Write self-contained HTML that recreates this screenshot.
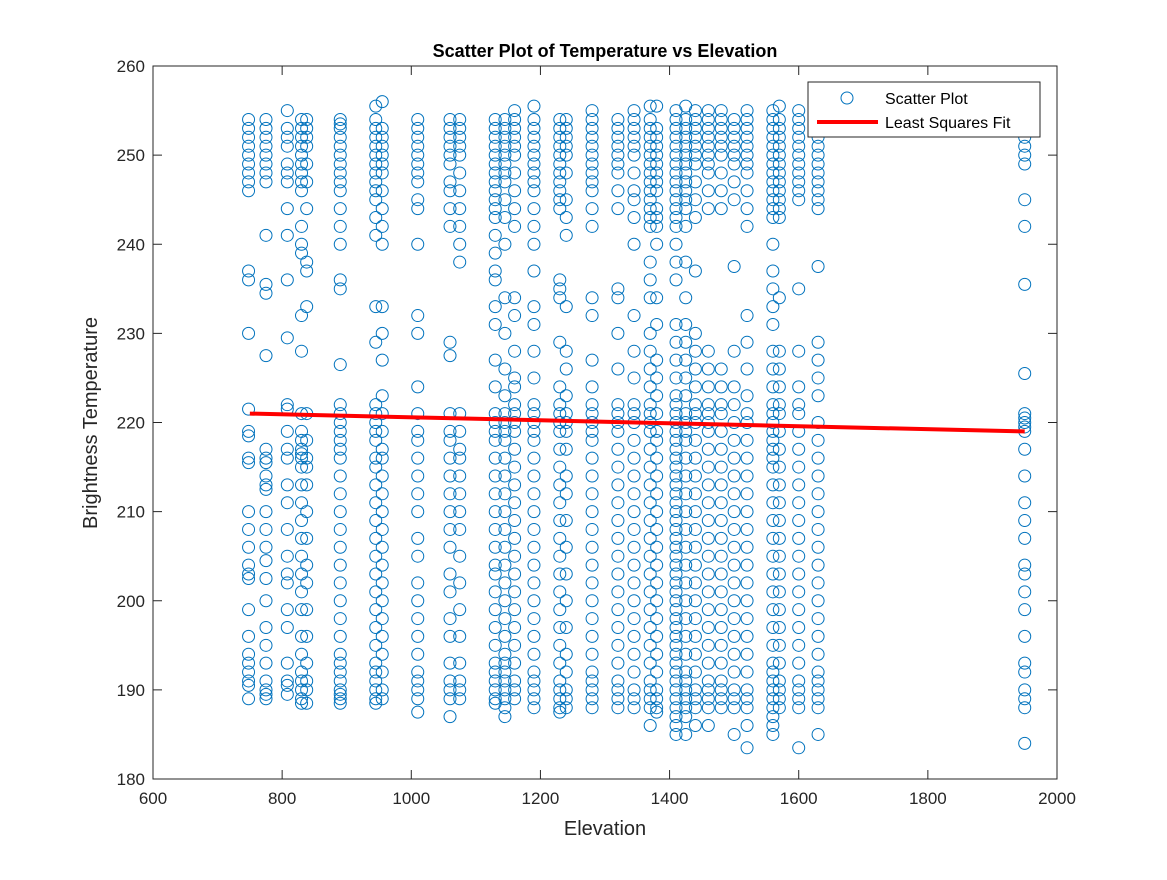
<!DOCTYPE html>
<html><head><meta charset="utf-8"><style>
body{margin:0;background:#fff;}
svg text{font-family:"Liberation Sans",sans-serif;}
</style></head><body>
<svg id="chart" width="1167" height="875" xmlns="http://www.w3.org/2000/svg">
<rect width="1167" height="875" fill="#fff"/>
<g id="marks"></g>
<g id="axes"></g>
</svg>
<script>
const elevations=[748,775,808,830,838,890,945,955,1010,1060,1075,1130,1145,1160,1190,1230,1240,1280,1320,1345,1370,1380,1410,1425,1440,1460,1480,1500,1520,1560,1570,1600,1630,1950];
const temps=[
[254,253,252,251,250,249,248,247,246,237,236,230,221.5,219,218.5,216,215.5,210,208,206,204,203,202.5,199,196,194,193,192,191,190.5,189],
[254,253,252,251,250,249,248,247,241,235.5,234.5,227.5,217,216,215.5,214,213,212.5,210,208,206,204.5,202.5,200,197,195,193,191,190,189.5,189],
[255,253,252,251,249,248,247,244,241,236,229.5,222,221.5,219,217,216,213,211,208,205,203,202,199,197,193,191,190.5,189.5],
[254,253,252,251,250,249,248,247,246,242,240,239,232,228,221,219,218,217,216.5,216,215,213,211,209,207,205,203,201,199,196,194,192,191,190,189,188.5],
[254,253,252,251,249,247,244,238,237,233,221,218,216,215,213,210,207,204,202,199,196,193,191,190,188.5],
[254,253.5,253,252,251,250,249,248,247,246,244,242,240,236,235,226.5,222,221,220,219,218,217,216,214,212,210,208,206,204,202,200,198,196,194,193,192,191,190,189.5,189,188.5],
[255.5,254,253,252,251,250,249,248,247,246,245,243,241,233,229,222,221,220,219,218,216,215,213,211,209,207,205,203,201,199,197,195,193,192,191,190,189,188.5],
[256,253,252,251,250,249,248,246,244,242,240,233,230,227,223,221,219,217,216,214,212,210,208,206,204,202,200,198,196,194,192,190,189],
[254,253,252,251,250,249,248,247,245,244,240,232,230,224,221,219,218,216,214,212,210,207,205,202,200,198,196,194,192,191,190,189,187.5],
[254,253,252,251,250,249,247,246,244,242,229,227.5,221,219,218,216,214,212,210,208,206,203,201,198,196,193,191,190,189,187],
[254,253,252,251,250,248,246,244,242,240,238,221,219,217,216,214,212,210,208,205,202,199,196,193,191,190,189],
[254,253,252,251,250,249,248,247,246,245,244,243,241,239,237,236,233,231,227,224,221,220,219,218,216,214,212,210,208,206,204,203,201,199,197,195,193,192,191,190,189,188.5],
[254,253,252,251,250,249,248,247,245,243,240,234,230,226,223,221,220,219,218,216,214,212,210,208,206,204,202,200,198,196,194,193,192,191,190,189,188,187],
[255,254,253,252,251,250,248,246,244,242,234,232,228,225,224,222,221,220,219,217,215,213,211,209,207,205,203,201,199,197,195,193,191,190,189],
[255.5,254,253,252,251,250,249,248,247,246,244,242,240,237,233,231,228,225,222,221,220,219,218,216,214,212,210,208,206,204,202,200,198,196,194,192,191,190,189,188],
[254,253,252,251,250,249,248,247,246,245,244,236,235,234,229,224,222,221,220,219,217,215,213,211,209,207,205,203,201,199,197,195,193,191,190,189,188,187.5],
[254,253,252,251,250,248,245,243,241,233,228,226,223,221,220,219,217,214,212,209,206,203,200,197,194,192,190,189,188],
[255,254,253,252,251,250,249,248,247,246,244,242,234,232,227,224,222,221,220,219,218,216,214,212,210,208,206,204,202,200,198,196,194,192,191,190,189,188],
[254,253,252,251,250,249,248,246,244,235,234,230,226,222,221,220,219,217,215,213,211,209,207,205,203,201,199,197,195,193,191,190,189,188],
[255,254,253,252,251,250,248,246,245,243,240,232,228,225,222,221,220,218,216,214,212,210,208,206,204,202,200,198,196,194,192,190,189,188],
[255.5,254,253,252,251,250,249,248,247,246,245,244,243,242,238,236,234,230,228,226,224,222,221,220,219,217,215,213,211,209,207,205,203,201,199,197,195,193,191,190,189,188,186],
[255.5,253,252,251,250,249,248,247,246,244,243,242,240,234,231,227,225,223,221,219,218,216,214,212,210,208,206,204,202,200,198,196,194,192,190,189,188,187.5],
[255,254,253,252,251,250,249,248,247,246,245,244,243,242,240,238,236,231,229,227,225,223,222,221,220,219,218,217,216,215,214,213,212,211,210,209,208,207,206,205,204,203,202,201,200,199,198,197,196,195,194,193,192,191,190,189,188,187,186,185],
[255.5,254,253,252,251,250,249,248,247,246,245,244,242,238,234,231,229,227,225,223,221,220,219,218,216,214,212,210,208,206,204,202,200,198,196,194,192,191,190,189,188,187,185],
[255,254,253,252,251,250,249,247,245,243,237,230,228,226,224,222,221,220,218,216,214,212,210,208,206,204,202,200,198,196,194,192,190,189,188,186],
[255,254,253,252,251,250,249,248,246,244,228,226,224,222,221,220,219,217,215,213,211,209,207,205,203,201,199,197,195,193,191,190,189,188,186],
[255,254,253,252,251,250,248,246,244,226,224,222,221,219,217,215,213,211,209,207,205,203,201,199,197,195,193,191,190,189,188],
[254,253,252,251,250,249,247,245,237.5,228,224,222,220,218,216,214,212,210,208,206,204,202,200,198,196,194,192,190,189,188,185],
[255,254,253,252,251,250,249,248,246,244,242,232,229,226,223,221,220,218,216,214,212,210,208,206,204,202,200,198,196,194,192,190,189,188,186,183.5],
[255,254,253,252,251,250,249,248,247,246,245,244,243,240,237,235,233,231,228,226,224,222,221,220,219,218,217,216,215,213,211,209,207,205,203,201,199,197,195,193,192,191,190,189,188,187,186,185],
[255.5,254,253,252,251,250,249,248,247,246,245,244,243,234,228,226,224,222,221,219,217,215,213,211,209,207,205,203,201,199,197,195,193,191,190,189,188],
[255,254,253,252,251,250,249,248,247,246,245,235,228,224,222,221,219,217,215,213,211,209,207,205,203,201,199,197,195,193,191,190,189,188,183.5],
[255,254,253,252,251,250,249,248,247,246,245,244,237.5,229,227,225,223,220,218,216,214,212,210,208,206,204,202,200,198,196,194,192,191,190,189,188,185],
[255,253,252,251,250,249,245,242,235.5,225.5,221,220.5,220,219.5,219,217,214,211,209,207,204,203,201,199,196,193,192,190,189,188,184]
];
const fitX=[750,1950];
const fitY=[221,219];
const xTicks=[600,800,1000,1200,1400,1600,1800,2000];
const yTicks=[180,190,200,210,220,230,240,250,260];

const NS="http://www.w3.org/2000/svg";
const L=153,R=1057,T=66,B=779;
const xs=v=>L+(v-600)/(2000-600)*(R-L);
const ys=v=>B-(v-180)/(260-180)*(B-T);
function mk(tag,attrs,parent){const e=document.createElementNS(NS,tag);for(const k in attrs)e.setAttribute(k,attrs[k]);parent.appendChild(e);return e;}
const marks=document.getElementById('marks');
const axes=document.getElementById('axes');

elevations.forEach((x,i)=>{
  temps[i].forEach(t=>{
    const c=mk('circle',{cx:xs(x),cy:ys(t),r:6,fill:'none',stroke:'#0072BD','stroke-width':1},marks);
    
    
  });
});
const fl=mk('line',{x1:xs(fitX[0]),y1:ys(fitY[0]),x2:xs(fitX[1]),y2:ys(fitY[1]),stroke:'#ff0000','stroke-width':4},marks);



const box=mk('rect',{x:L,y:T,width:R-L,height:B-T,fill:'none',stroke:'#262626','stroke-width':1},axes);


xTicks.forEach(v=>{
  const x=xs(v);
  mk('line',{x1:x,y1:B,x2:x,y2:B-9,stroke:'#262626'},axes);
  mk('line',{x1:x,y1:T,x2:x,y2:T+9,stroke:'#262626'},axes);
  const t=mk('text',{x:x,y:B+25,'text-anchor':'middle','font-size':17,fill:'#262626'},axes);
  t.textContent=v;
  
  
});
yTicks.forEach(v=>{
  const y=ys(v);
  mk('line',{x1:L,y1:y,x2:L+9,y2:y,stroke:'#262626'},axes);
  mk('line',{x1:R,y1:y,x2:R-9,y2:y,stroke:'#262626'},axes);
  const t=mk('text',{x:L-8,y:y+6,'text-anchor':'end','font-size':17,fill:'#262626'},axes);
  t.textContent=v;
  
  
});
</script>
<svg style="position:absolute;left:0;top:0" width="1167" height="875" xmlns="http://www.w3.org/2000/svg">
<text x="605" y="57" text-anchor="middle" font-size="18" font-weight="bold" fill="#000" font-family="Liberation Sans, sans-serif">Scatter Plot of Temperature vs Elevation</text>
<text x="605" y="835" text-anchor="middle" font-size="20" fill="#262626" font-family="Liberation Sans, sans-serif">Elevation</text>
<text transform="translate(97,423) rotate(-90)" text-anchor="middle" font-size="20" fill="#262626" font-family="Liberation Sans, sans-serif">Brightness Temperature</text>
<g>
<rect x="808" y="82" width="232" height="55" fill="#fff" stroke="#262626" stroke-width="1"/>
<circle cx="847" cy="98" r="6" fill="none" stroke="#0072BD"/>
<text x="885" y="104" font-size="16" fill="#000" font-family="Liberation Sans, sans-serif">Scatter Plot</text>
<line x1="817" y1="122" x2="878" y2="122" stroke="#ff0000" stroke-width="4"/>
<text x="885" y="128" font-size="16" fill="#000" font-family="Liberation Sans, sans-serif">Least Squares Fit</text>
</g>
</svg>
</body></html>
